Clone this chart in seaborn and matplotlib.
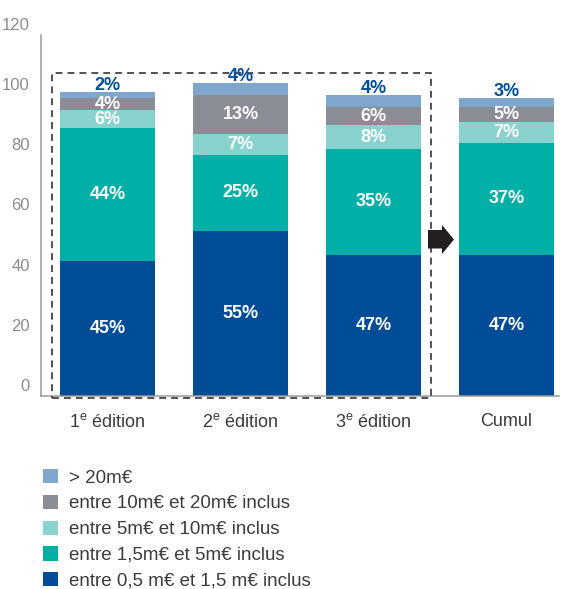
import numpy as np
import matplotlib
matplotlib.use("Agg")
import matplotlib.pyplot as plt
import seaborn as sns
from matplotlib.patches import Rectangle, Polygon, Patch
from matplotlib.transforms import ScaledTranslation

sns.set_style("white")
plt.rcParams["font.family"] = ["Liberation Sans", "DejaVu Sans"]
plt.rcParams["mathtext.fontset"] = "custom"
plt.rcParams["mathtext.rm"] = "Liberation Sans"
plt.rcParams["mathtext.it"] = "Liberation Sans"

# Categories and tick labels
editions = ["1e édition", "2e édition", "3e édition", "Cumul"]
edition_labels = ["1$^{\\mathrm{e}}$ édition", "2$^{\\mathrm{e}}$ édition",
                  "3$^{\\mathrm{e}}$ édition", "Cumul"]

# Share of projects per amount bracket (%), bottom to top of each stack
tranches = ["entre 0,5 m€ et 1,5 m€ inclus", "entre 1,5m€ et 5m€ inclus",
            "entre 5m€ et 10m€ inclus", "entre 10m€ et 20m€ inclus", "> 20m€"]
pct_05_15 = [45, 55, 47, 47]
pct_15_5 = [44, 25, 35, 37]
pct_5_10 = [6, 7, 8, 7]
pct_10_20 = [4, 13, 6, 5]
pct_20plus = [2, 4, 4, 3]

colors = ["#004c97", "#00b0a6", "#88d3ce", "#8a8c96", "#7fa6cd"]
spine_color = "#9a9a9a"

layers = np.array([pct_05_15, pct_15_5, pct_5_10, pct_10_20, pct_20plus])
cum = np.cumsum(layers, axis=0)

fig = plt.figure(figsize=(5.61, 5.89), dpi=100)
ax = fig.add_axes([41 / 561, 193 / 589, 518 / 561, 361 / 589])

# Stacked bars: draw cumulative totals from the top layer down
for k in reversed(range(len(layers))):
    sns.barplot(x=editions, y=cum[k], color=colors[k], width=0.72,
                saturation=1, errorbar=None, linewidth=0, ax=ax)

# Value labels
for i in range(len(editions)):
    for k in range(4):
        ax.text(i, cum[k][i] - layers[k][i] / 2, f"{layers[k][i]}%",
                ha="center", va="center", color="white",
                fontsize=13, fontweight="bold", zorder=6)
    ax.text(i, cum[4][i] + 0.6, f"{layers[4][i]}%", ha="center",
            va="baseline", color=colors[0], fontsize=13,
            fontweight="bold", zorder=6)

ax.set_xlim(-0.5, 3.395)
ax.set_ylim(0, 120)
ax.set_yticks(range(0, 121, 20))
ax.set_xticks(range(len(editions)))
ax.set_xticklabels(edition_labels)
ax.set_xticks([0.5, 1.5, 2.5], minor=True)
ax.set_xlabel("")
ax.set_ylabel("")

for side in ["top", "right"]:
    ax.spines[side].set_visible(False)
for side in ["left", "bottom"]:
    ax.spines[side].set_color(spine_color)
    ax.spines[side].set_linewidth(1.1)

ax.tick_params(axis="y", direction="in", length=8.6, width=1.1,
               color=spine_color, pad=8, labelsize=12, labelcolor="#8c8c8c")
ax.tick_params(axis="x", which="major", length=0, pad=12,
               labelsize=13, labelcolor="#3c3c3c")
ax.tick_params(axis="x", which="minor", direction="in", length=4.5,
               width=1.1, color=spine_color)

shift = ScaledTranslation(0, 0.11, fig.dpi_scale_trans)
for lbl in ax.get_yticklabels():
    lbl.set_transform(lbl.get_transform() + shift)

# Dashed frame around the three editions
ax.add_patch(Rectangle((-0.42, -0.6), 2.85, 108, fill=False,
                       ls=(0, (4.5, 3.3)), lw=1.1, ec="#222222",
                       clip_on=False, zorder=5))

# Arrow pointing to the cumulative bar
W, H = 561, 589
pts = [(428, 230), (442, 230), (442, 225), (454, 239.5),
       (442, 254), (442, 248.5), (428, 248.5)]
fig.patches.append(Polygon([(x / W, 1 - y / H) for x, y in pts],
                           closed=True, fc="#231f20", ec="none",
                           transform=fig.transFigure, figure=fig))

handles = [Patch(fc=colors[k], ec="none") for k in reversed(range(5))]
labels = [tranches[k] for k in reversed(range(5))]
fig.legend(handles, labels, loc="upper left",
           bbox_to_anchor=(43 / W, 1 - 469 / H), frameon=False,
           fontsize=13.5, handlelength=0.8, handleheight=0.8,
           handletextpad=0.6, labelspacing=0.43, borderpad=0,
           borderaxespad=0, labelcolor="#3c3c3c")

fig.savefig("out.png", dpi=100)
